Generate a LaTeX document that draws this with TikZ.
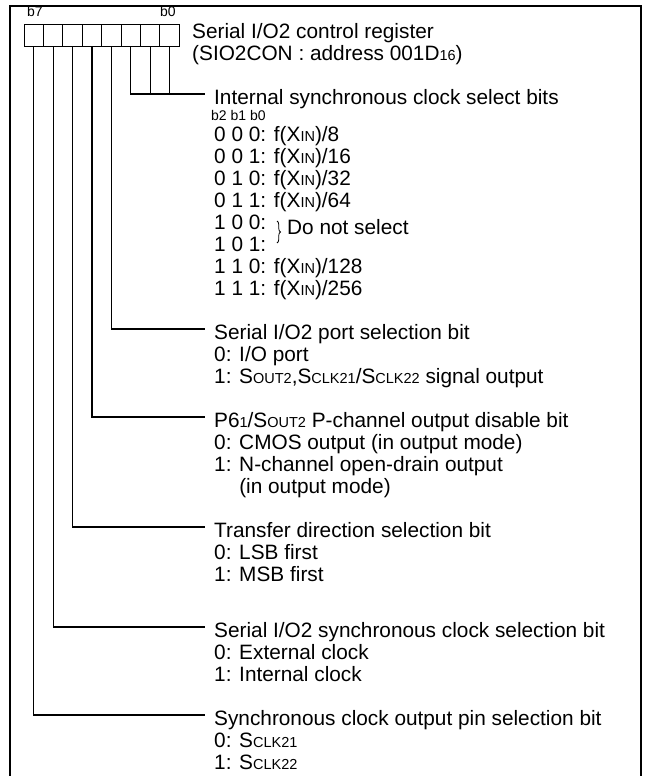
\documentclass[tikz,border=0pt]{standalone}
\usepackage{fontspec}
\setmainfont{Liberation Sans}
\usepackage{tikz}
\usetikzlibrary{decorations.pathreplacing}

\newcommand{\sm}[1]{{\fontsize{14.5}{15}\selectfont #1}}

\begin{document}
\begin{tikzpicture}[x=1pt,y=-1pt,
  every node/.style={inner sep=0pt,anchor=base west,font=\fontsize{20.8}{22}\selectfont},
  bitcell/.style={draw,line width=1pt,minimum width=19.4pt,minimum height=22.4pt,anchor=center},
  bitnum/.style={anchor=base,font=\fontsize{14}{14}\selectfont},
  lead/.style={line width=1.1pt}]
\useasboundingbox (0,0) rectangle (645,776);
\clip (0,0) rectangle (645,776);

% frame
\draw[line width=2pt] (10,5.7) rectangle (641.3,800);

% register bits
\foreach \i in {0,...,7}
  \draw ({169.6-19.4*\i},35.5) node[bitcell] (c\i) {};
\draw (35,16.7) node[bitnum] (b7) {b7};
\draw (168,16.7) node[bitnum] (b0) {b0};

\draw (192,38) node (reg) {Serial I/O2 control register};
\draw (192,60) node (regaddr) {(SIO2CON : address 001D\sm{16})};

% b2..b0
\draw (214,104) node (isc) {Internal synchronous clock select bits};
\draw (211,120) node[font=\fontsize{14}{14}\selectfont] (iscb) {b2 b1 b0};
\draw (214,141) node (isc0) {0 0 0: f(X\sm{IN})/8};
\draw (214,163) node (isc1) {0 0 1: f(X\sm{IN})/16};
\draw (214,185) node (isc2) {0 1 0: f(X\sm{IN})/32};
\draw (214,207) node (isc3) {0 1 1: f(X\sm{IN})/64};
\draw (214,229) node (isc4) {1 0 0:};
\draw (214,251) node (isc5) {1 0 1:};
\draw (214,273) node (isc6) {1 1 0: f(X\sm{IN})/128};
\draw (214,295) node (isc7) {1 1 1: f(X\sm{IN})/256};
\draw (287,234) node (dns) {Do not select};
\draw[line width=0.8pt,decorate,decoration={brace,amplitude=3.5pt}] (277,221) -- (277,243);

\coordinate (isc-in) at ([shift={(-9,-10)}]isc.base west);
\draw[lead] (c2.south) |- (isc-in);
\draw[lead] (c1.south) -- (c1.south |- isc-in);
\draw[lead] (c0.south) -- (c0.south |- isc-in);

% b3
\draw (214,339) node (psel) {Serial I/O2 port selection bit};
\draw (214,361) node (psel0) {0: I/O port};
\draw (214,383) node (psel1) {1: S\sm{OUT2},S\sm{CLK21}/S\sm{CLK22} signal output};
\draw[lead] (c3.south) |- ([shift={(-9,-10)}]psel.base west);

% b4
\draw (214,427) node (pch) {P6\sm{1}/S\sm{OUT2} P-channel output disable bit};
\draw (214,449) node (pch0) {0: CMOS output (in output mode)};
\draw (214,471) node (pch1) {1: N-channel open-drain output};
\draw (214,493) node (pch1b) {\phantom{1: }(in output mode)};
\draw[lead] (c4.south) |- ([shift={(-9,-10)}]pch.base west);

% b5
\draw (214,537) node (tdir) {Transfer direction selection bit};
\draw (214,559) node (tdir0) {0: LSB first};
\draw (214,581) node (tdir1) {1: MSB first};
\draw[lead] (c5.south) |- ([shift={(-9,-10)}]tdir.base west);

% b6
\draw (214,637) node (sclk) {Serial I/O2 synchronous clock selection bit};
\draw (214,659) node (sclk0) {0: External clock};
\draw (214,681) node (sclk1) {1: Internal clock};
\draw[lead] (c6.south) |- ([shift={(-9,-10)}]sclk.base west);

% b7
\draw (214,725) node (opin) {Synchronous clock output pin selection bit};
\draw (214,747) node (opin0) {0: S\sm{CLK21}};
\draw (214,769) node (opin1) {1: S\sm{CLK22}};
\draw[lead] (c7.south) |- ([shift={(-9,-10)}]opin.base west);

\end{tikzpicture}
\end{document}
